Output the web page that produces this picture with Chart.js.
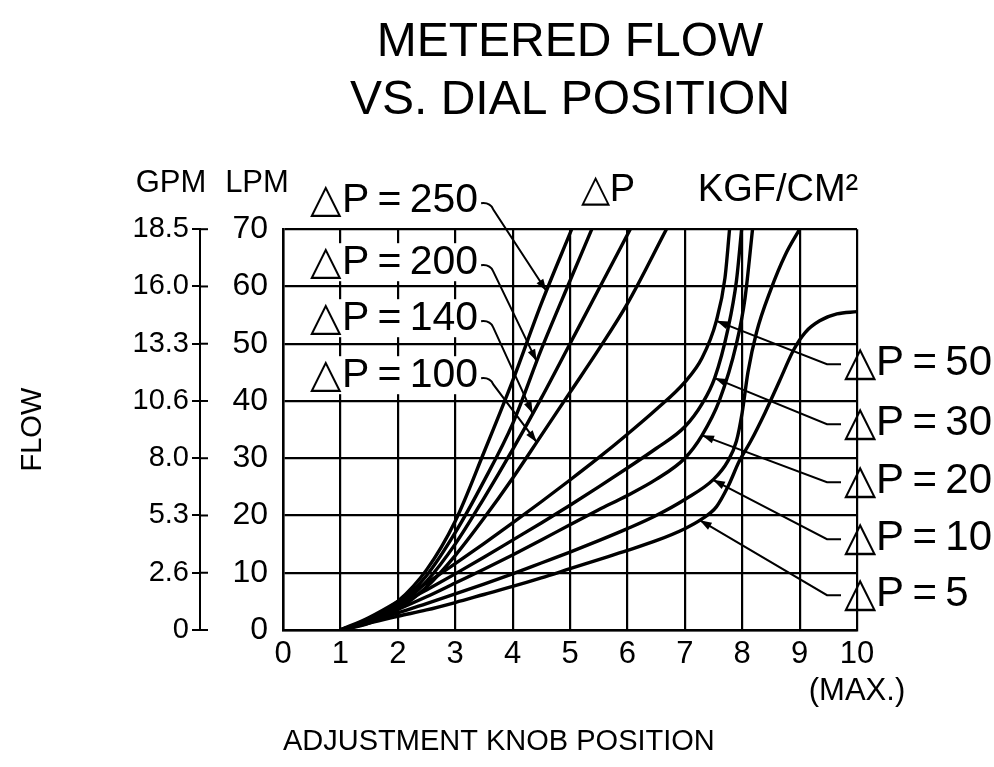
<!DOCTYPE html>
<html>
<head>
<meta charset="utf-8">
<title>Metered flow vs. dial position</title>
<script src="https://cdn.jsdelivr.net/npm/chart.js@4.4.0/dist/chart.umd.min.js"></script>
<style>
  body { margin: 0; background: #fff; }
  #flowChart { display: block; }
</style>
</head>
<body>
<canvas id="flowChart" width="994" height="767"></canvas>
<script>
// [knob position, flow in LPM], one list per pressure drop (kgf/cm2)
var dp250 = [[1,0],[1.5,1.8],[2,5],[2.5,10.5],[3,19],[3.5,31],[4,43.5],[4.5,57],[5.03,70]];
var dp200 = [[1,0],[1.5,1.6],[2,4.5],[2.5,9.5],[3,17],[3.5,26],[4,36],[4.5,49],[5,61],[5.38,70]];
var dp140 = [[1,0],[1.5,1.4],[2,4],[2.5,8.5],[3,15],[3.5,23],[4,31.5],[4.5,40.5],[5,50],[5.5,59.5],[6.05,70]];
var dp100 = [[1,0],[1.5,1.2],[2,3.6],[2.5,7.5],[3,13],[3.5,19.5],[4,26.5],[4.5,34],[5,41.5],[5.5,49],[6,57],[6.68,70]];
var dp50  = [[1,0],[1.5,2.2],[2,5],[2.5,8.2],[3,11.6],[3.5,15.1],[4,18.7],[4.5,22.4],[5,26.2],[5.5,30.1],[6,34.2],[6.5,38.5],[7,43.3],[7.3,47.5],[7.55,54],[7.7,61.5],[7.78,70]];
var dp30  = [[1,0],[1.5,1.9],[2,4.3],[2.5,7],[3,9.8],[3.5,12.7],[4,15.7],[4.5,18.7],[5,21.8],[5.5,25],[6,28.3],[6.5,31.7],[7,35.5],[7.3,39.5],[7.52,44],[7.75,52.5],[7.9,61],[7.99,70]];
var dp20  = [[1,0],[1.5,1.6],[2,3.6],[2.5,5.8],[3,8.2],[3.5,10.6],[4,13.1],[4.5,15.7],[5,18.4],[5.5,21],[6,23.5],[6.5,26.3],[7,30],[7.3,34],[7.6,40],[7.9,50],[8.05,58],[8.18,70]];
var dp10  = [[1,0],[1.5,1.4],[2,3],[2.5,4.6],[3,6.3],[3.5,8],[4,9.8],[4.5,11.7],[5,13.6],[5.5,15.6],[6,17.7],[6.5,20],[7,22.8],[7.5,26.3],[7.75,29.5],[7.9,33],[8,38],[8.1,45],[8.25,52],[8.5,59.5],[8.75,65.5],[9,70]];
var dp5   = [[1,0],[1.5,1.2],[2,2.4],[2.5,3.5],[3,4.8],[3.5,6.2],[4,7.6],[4.5,9.1],[5,10.7],[5.5,12.3],[6,13.9],[6.5,15.6],[7,17.7],[7.3,19.4],[7.55,21.5],[7.75,25],[7.95,29.5],[8.15,33],[8.4,38],[8.65,43.5],[8.9,49],[9.1,52],[9.35,54],[9.65,55.2],[10,55.6]];

var knobLabels = ['0','1','2','3','4','5','6','7','8','9',['10','(MAX.)']];
var lpmLabels = ['0','10','20','30','40','50','60','70'];
var gpmLabels = ['0','2.6','5.3','8.0','10.6','13.3','16.0','18.5'];

var FONT = '"Liberation Sans", Arial, sans-serif';
var SP = '\u2009';

// callouts: which curve, where the label sits, and the knob position the arrow points at
var leftNotes = [
  { text: '\u25B3P' + SP + '=' + SP + '250', curve: dp250, dy: -29, at: 4.59 },
  { text: '\u25B3P' + SP + '=' + SP + '200', curve: dp200, dy: 33,  at: 4.42 },
  { text: '\u25B3P' + SP + '=' + SP + '140', curve: dp140, dy: 89,  at: 4.35 },
  { text: '\u25B3P' + SP + '=' + SP + '100', curve: dp100, dy: 146, at: 4.42 }
];
var rightNotes = [
  { text: '\u25B3P' + SP + '=' + SP + '50', curve: dp50, dy: 134, at: 7.55 },
  { text: '\u25B3P' + SP + '=' + SP + '30', curve: dp30, dy: 194, at: 7.52 },
  { text: '\u25B3P' + SP + '=' + SP + '20', curve: dp20, dy: 252, at: 7.3 },
  { text: '\u25B3P' + SP + '=' + SP + '10', curve: dp10, dy: 309, at: 7.49 },
  { text: '\u25B3P' + SP + '=' + SP + '5',  curve: dp5,  dy: 365, at: 7.26 }
];

function toPoints(list) {
  return list.map(function(p) { return { x: p[0], y: p[1] }; });
}

function valueAt(list, x) {
  for (var i = 1; i < list.length; i++) {
    if (x <= list[i][0]) {
      var a = list[i - 1], b = list[i];
      return a[1] + (b[1] - a[1]) * (x - a[0]) / (b[0] - a[0]);
    }
  }
  return list[list.length - 1][1];
}

function arrowHead(ctx, x0, y0, x1, y1) {
  var a = Math.atan2(y1 - y0, x1 - x0);
  ctx.beginPath();
  ctx.moveTo(x1, y1);
  ctx.lineTo(x1 - 12 * Math.cos(a) + 4 * Math.sin(a), y1 - 12 * Math.sin(a) - 4 * Math.cos(a));
  ctx.lineTo(x1 - 12 * Math.cos(a) - 4 * Math.sin(a), y1 - 12 * Math.sin(a) + 4 * Math.cos(a));
  ctx.closePath();
  ctx.fill();
}

var notesPlugin = {
  id: 'notes',
  afterDraw: function(chart) {
    var ctx = chart.ctx;
    var area = chart.chartArea;
    var xs = chart.scales.x, ys = chart.scales.y, gs = chart.scales.y2;
    ctx.save();
    ctx.fillStyle = '#000';
    ctx.strokeStyle = '#000';

    // tick marks of the GPM axis cross the axis line
    ctx.lineWidth = 2;
    gs.ticks.forEach(function(t) {
      var py = gs.getPixelForValue(t.value);
      ctx.beginPath();
      ctx.moveTo(gs.right, py);
      ctx.lineTo(gs.right + 8, py);
      ctx.stroke();
    });

    ctx.textBaseline = 'middle';
    ctx.textAlign = 'center';
    ctx.font = '31px ' + FONT;
    ctx.fillText('GPM', area.left - 112, area.top - 46);
    ctx.fillText('LPM', area.left - 26, area.top - 46);
    ctx.font = '38px ' + FONT;
    ctx.fillText('\u25B3P', area.left + 325, area.top - 39);
    ctx.fillText('KGF/CM\u00B2', area.left + 495, area.top - 39);

    ctx.textAlign = 'left';
    ctx.font = '41px ' + FONT;
    leftNotes.forEach(function(n) {
      var tx = area.left + 27, ty = area.top + n.dy;
      var w = ctx.measureText(n.text).width;
      ctx.fillStyle = '#fff';
      ctx.fillRect(tx - 3, ty - 19, w + 6, 38);
      ctx.fillStyle = '#000';
      ctx.fillText(n.text, tx, ty);
      var px = xs.getPixelForValue(n.at);
      var py = ys.getPixelForValue(valueAt(n.curve, n.at));
      var sx = tx + w + 3, sy = ty + 3;
      ctx.lineWidth = 2;
      ctx.beginPath();
      ctx.moveTo(sx, sy);
      ctx.quadraticCurveTo(sx + 9, sy - 1, sx + 12, sy + 6);
      ctx.lineTo(px, py);
      ctx.stroke();
      arrowHead(ctx, sx + 12, sy + 6, px, py);
    });

    ctx.font = '42px ' + FONT;
    rightNotes.forEach(function(n) {
      var tx = area.right - 13, ty = area.top + n.dy;
      ctx.fillText(n.text, tx, ty);
      var px = xs.getPixelForValue(n.at);
      var py = ys.getPixelForValue(valueAt(n.curve, n.at));
      var ex = tx - 3, ey = ty + 1;
      ctx.lineWidth = 2;
      ctx.beginPath();
      ctx.moveTo(ex, ey);
      ctx.lineTo(ex - 14, ey);
      ctx.lineTo(px, py);
      ctx.stroke();
      arrowHead(ctx, ex - 14, ey, px, py);
    });
    ctx.restore();
  }
};

var curves = [dp250, dp200, dp140, dp100, dp50, dp30, dp20, dp10, dp5];

new Chart(document.getElementById('flowChart'), {
  type: 'line',
  data: {
    datasets: curves.map(function(c) {
      return {
        data: toPoints(c),
        borderColor: '#000',
        borderWidth: 3.4,
        pointRadius: 0,
        fill: false,
        cubicInterpolationMode: 'monotone'
      };
    })
  },
  options: {
    responsive: false,
    animation: false,
    devicePixelRatio: 1,
    layout: { padding: { left: 10, right: 137, bottom: 8, top: 0 } },
    plugins: {
      legend: { display: false },
      tooltip: { enabled: false },
      title: {
        display: true,
        text: ['METERED FLOW', 'VS. DIAL POSITION'],
        fullSize: false,
        color: '#000',
        font: { family: FONT, size: 48, weight: 'normal' },
        padding: { top: 14, bottom: 100 }
      }
    },
    scales: {
      x: {
        type: 'linear',
        min: 0,
        max: 10,
        ticks: {
          stepSize: 1,
          autoSkip: false,
          color: '#000',
          font: { family: FONT, size: 31 },
          padding: 6,
          maxRotation: 0,
          callback: function(v, i) { return knobLabels[i]; }
        },
        grid: { color: '#000', lineWidth: 2.2, drawTicks: false },
        border: { color: '#000', width: 2.5 },
        title: {
          display: true,
          text: 'ADJUSTMENT KNOB POSITION',
          align: 'start',
          color: '#000',
          font: { family: FONT, size: 29 },
          padding: { top: 0, bottom: 0 }
        },
        afterFit: function(s) { s.height = 129; }
      },
      y: {
        type: 'linear',
        position: 'left',
        weight: 0,
        min: 0,
        max: 70,
        ticks: {
          stepSize: 10,
          autoSkip: false,
          color: '#000',
          font: { family: FONT, size: 32 },
          padding: 15,
          callback: function(v, i) { return lpmLabels[i]; }
        },
        grid: { color: '#000', lineWidth: 2.2, drawTicks: false },
        border: { color: '#000', width: 2.5 },
        afterFit: function(s) { s.width = 83; }
      },
      y2: {
        type: 'linear',
        position: 'left',
        weight: 1,
        min: 0,
        max: 70,
        ticks: {
          stepSize: 10,
          autoSkip: false,
          color: '#000',
          font: { family: FONT, size: 29 },
          padding: 3,
          callback: function(v, i) { return gpmLabels[i]; }
        },
        grid: { drawOnChartArea: false, color: '#000', lineWidth: 2, tickLength: 8 },
        border: { display: true, color: '#000', width: 2 },
        title: {
          display: true,
          text: 'FLOW',
          color: '#000',
          font: { family: FONT, size: 29 },
          padding: { top: 6, bottom: 0 }
        },
        afterFit: function(s) { s.width = 190; }
      }
    }
  },
  plugins: [notesPlugin]
});
</script>
</body>
</html>
